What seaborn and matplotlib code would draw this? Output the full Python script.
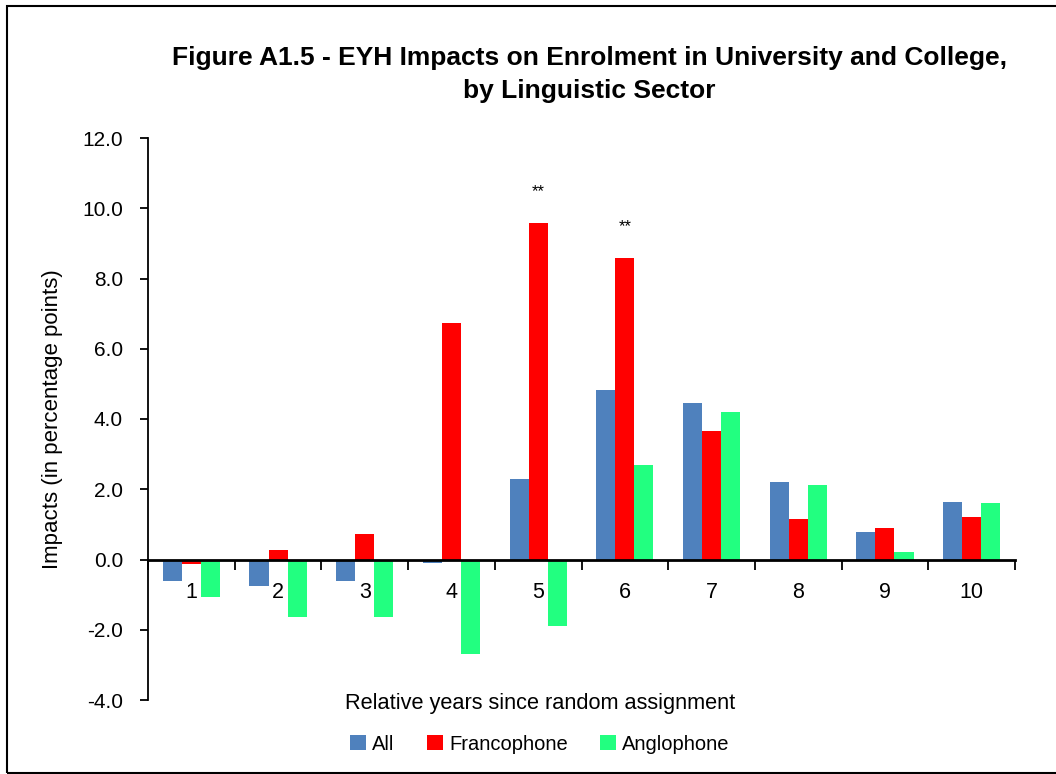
import matplotlib
matplotlib.use("Agg")
import matplotlib.pyplot as plt
import seaborn as sns
import pandas as pd
import numpy as np
from matplotlib.patches import Rectangle, Patch
from matplotlib.ticker import FixedLocator, FormatStrFormatter

years = ["1", "2", "3", "4", "5", "6", "7", "8", "9", "10"]
series_names = ["All", "Francophone", "Anglophone"]
all_vals = [-0.60, -0.75, -0.60, -0.10, 2.29, 4.83, 4.46, 2.20, 0.79, 1.65]
franco_vals = [-0.13, 0.26, 0.74, 6.74, 9.57, 8.57, 3.66, 1.15, 0.90, 1.20]
anglo_vals = [-1.07, -1.65, -1.65, -2.69, -1.89, 2.70, 4.19, 2.11, 0.21, 1.60]
colors = ["#4F81BD", "#FF0000", "#22FF80"]
# significance markers: (year, series, label)
sig_marks = [("5", "Francophone", "**"), ("6", "Francophone", "**")]

title = "Figure A1.5 - EYH Impacts on Enrolment in University and College,\nby Linguistic Sector"
xlabel = "Relative years since random assignment"
ylabel = "Impacts (in percentage points)"

df = pd.DataFrame({
    "year": years * 3,
    "series": [s for s in series_names for _ in years],
    "value": all_vals + franco_vals + anglo_vals,
})

sns.set_style("white")
fam = ["Liberation Sans Narrow", "Liberation Sans", "DejaVu Sans"]
plt.rcParams["font.family"] = fam
for k in ["text.color", "axes.labelcolor", "xtick.color", "ytick.color"]:
    plt.rcParams[k] = "black"

fig = plt.figure(figsize=(10.56, 7.74), dpi=100)
ax = fig.add_axes([148 / 1056, 1 - 700 / 774, (1015 - 148) / 1056, (700 - 138) / 774])

sns.barplot(data=df, x="year", y="value", hue="series", order=years,
            hue_order=series_names, palette=colors, width=0.66,
            linewidth=0, saturation=1, ax=ax, legend=False)

ax.set_ylim(-4, 12)
ax.set_xlim(-0.5, len(years) - 0.5)
ax.yaxis.set_major_locator(FixedLocator(np.arange(-4, 12.1, 2)))
ax.yaxis.set_major_formatter(FormatStrFormatter("%.1f"))

for s in ["top", "right"]:
    ax.spines[s].set_visible(False)
ax.spines["bottom"].set_position(("data", 0))
ax.spines["left"].set_linewidth(1.3)
ax.spines["bottom"].set_linewidth(2.0)
ax.spines["left"].set_color("black")
ax.spines["bottom"].set_color("black")

# major x ticks at category boundaries, labels on minor ticks at centers
ax.set_xticks(np.arange(-0.5, len(years), 1.0))
ax.set_xticklabels([])
ax.set_xticks(np.arange(len(years)), minor=True)
ax.set_xticklabels(years, minor=True)
ax.tick_params(axis="x", which="major", direction="out", length=7, width=1.3,
               color="black", bottom=True)
ax.tick_params(axis="x", which="minor", length=0, pad=16, labelsize=15.5)
ax.tick_params(axis="y", direction="out", length=6, width=1.3, color="black",
               left=True, labelsize=15, pad=12)
ax.set_xlabel("")
ax.set_ylabel(ylabel, fontsize=16)
ax.yaxis.set_label_coords(-0.098, 0.5)

# significance markers
for yr, ser, lab in sig_marks:
    i = years.index(yr)
    j = series_names.index(ser)
    vals = [all_vals, franco_vals, anglo_vals][j]
    bw = 0.66 / len(series_names)
    xpos = i - 0.33 + bw * (j + 0.5)
    ax.text(xpos, vals[i] + 0.7, lab, ha="center", va="bottom", fontsize=12)

fig.text(589 / 1056, 1 - 74.5 / 774, title, ha="center", va="center",
         fontsize=19, fontweight="bold", linespacing=1.5)
fig.text(540 / 1056, 1 - 704 / 774, xlabel, ha="center", va="center", fontsize=15.7)

handles = [Patch(facecolor=c, edgecolor="none") for c in colors]
fig.legend(handles, series_names, loc="center", bbox_to_anchor=(540 / 1056, 1 - 744 / 774),
           ncol=3, frameon=False, fontsize=14.5, handlelength=0.8, handleheight=0.8,
           handletextpad=0.3, columnspacing=1.6)

fig.patches.append(Rectangle((7 / 1056, 1 / 774), 1.2, 1 - 7 / 774, transform=fig.transFigure,
                             fill=False, edgecolor="black", linewidth=1.5, figure=fig))

fig.savefig("out.png", dpi=100, facecolor="white")
